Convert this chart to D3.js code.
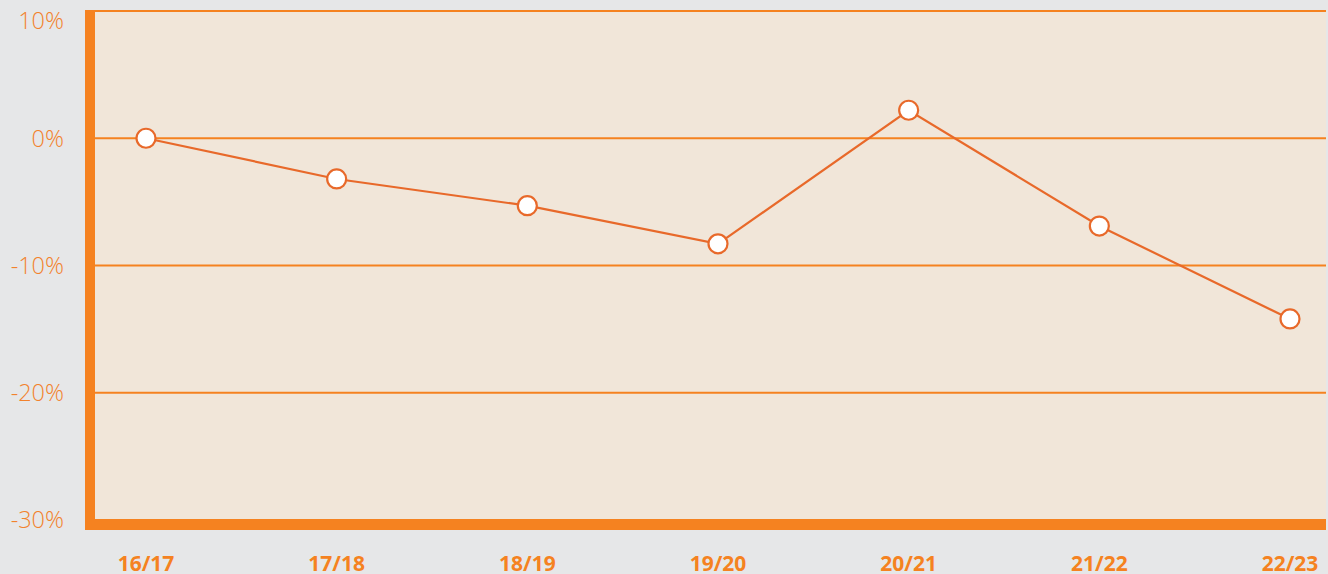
<!DOCTYPE html>
<html>
<head>
<meta charset="utf-8">
<script src="https://cdn.jsdelivr.net/npm/d3@7"></script>
<style>
  html, body { margin: 0; padding: 0; background: #E6E7E8; }
  svg { display: block; }
</style>
</head>
<body>
<svg id="chart" width="1328" height="574"></svg>
<script>
const categories = ["16/17", "17/18", "18/19", "19/20", "20/21", "21/22", "22/23"];
const values = [0, -3.2, -5.3, -8.3, 2.2, -6.9, -14.2];
const yTicks = [10, 0, -10, -20, -30];
const yTickLabels = ["10%", "0%", "-10%", "-20%", "-30%"];

const W = 1328, H = 574;
const plot = { left: 85, right: 1326, top: 10, bottom: 530 };
const orange = "#F58220";
const lineCol = "#E8692A";
const tickText = "#F2822C";

const svg = d3.select("#chart");

const x = d3.scalePoint().domain(categories).range([146, 1290]);
const y = d3.scaleLinear().domain([-30, 10]).range([520, 11]);

// plot background
svg.append("rect")
  .attr("x", plot.left).attr("y", plot.top)
  .attr("width", plot.right - plot.left).attr("height", plot.bottom - plot.top)
  .attr("fill", "#F1E6D9");

// gridlines
svg.append("g").selectAll("line")
  .data(yTicks.filter(d => d > -30))
  .join("line")
  .attr("x1", plot.left + 10).attr("x2", plot.right)
  .attr("y1", d => y(d)).attr("y2", d => y(d))
  .attr("stroke", orange).attr("stroke-width", 2.2);

// thick left axis bar
svg.append("rect")
  .attr("x", plot.left).attr("y", plot.top)
  .attr("width", 10).attr("height", plot.bottom - plot.top)
  .attr("fill", orange);

// thick bottom axis bar
svg.append("rect")
  .attr("x", plot.left).attr("y", y(-30) - 1)
  .attr("width", plot.right - plot.left).attr("height", plot.bottom - y(-30) + 1)
  .attr("fill", orange);

// y tick labels
svg.append("g").selectAll("text")
  .data(yTicks)
  .join("text")
  .attr("x", 64)
  .attr("y", d => Math.max(y(d), 21))
  .attr("dy", "0.36em")
  .attr("text-anchor", "end")
  .attr("font-family", "'Open Sans', sans-serif")
  .attr("font-size", 23.5)
  .attr("font-weight", 300)
  .attr("fill", tickText)
  .text((d, i) => yTickLabels[i]);

// x labels
svg.append("g").selectAll("text")
  .data(categories)
  .join("text")
  .attr("x", d => x(d))
  .attr("y", 571)
  .attr("text-anchor", "middle")
  .attr("font-family", "'Open Sans', sans-serif")
  .attr("font-size", 21)
  .attr("font-weight", 700)
  .attr("fill", orange)
  .text(d => d);

// line
const data = categories.map((c, i) => ({ c, v: values[i] }));
svg.append("path")
  .datum(data)
  .attr("fill", "none")
  .attr("stroke", lineCol)
  .attr("stroke-width", 2.2)
  .attr("d", d3.line().x(d => x(d.c)).y(d => y(d.v)));

// markers
svg.append("g").selectAll("circle")
  .data(data)
  .join("circle")
  .attr("cx", d => x(d.c))
  .attr("cy", d => y(d.v))
  .attr("r", 9.5)
  .attr("fill", "#FFFFFF")
  .attr("stroke", lineCol)
  .attr("stroke-width", 2.2);
</script>
</body>
</html>
